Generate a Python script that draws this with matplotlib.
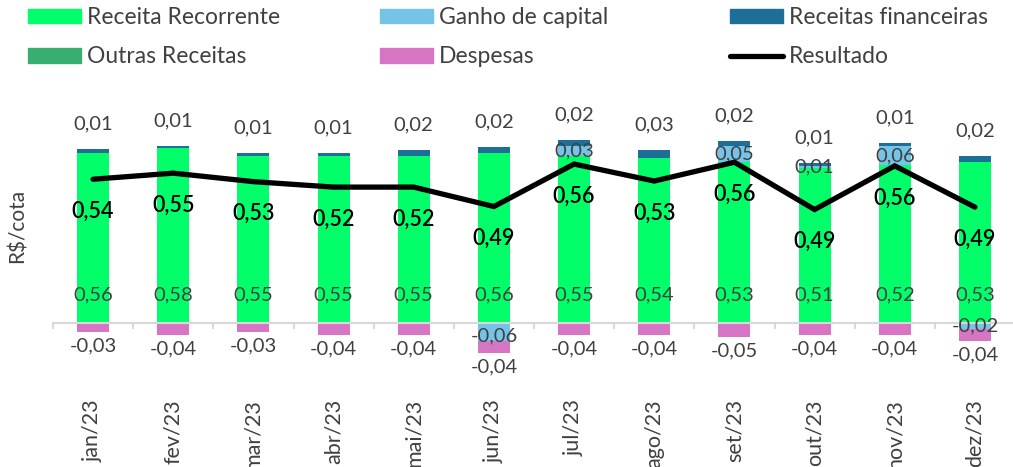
import matplotlib
matplotlib.use('Agg')
import matplotlib.pyplot as plt
import numpy as np
from matplotlib.patches import Patch
from matplotlib.lines import Line2D

plt.rcParams['font.family'] = ['Lato', 'DejaVu Sans']

months = ['jan/23', 'fev/23', 'mar/23', 'abr/23', 'mai/23', 'jun/23',
          'jul/23', 'ago/23', 'set/23', 'out/23', 'nov/23', 'dez/23']
receita_recorrente = [0.56, 0.576, 0.55, 0.55, 0.55, 0.56, 0.55, 0.544, 0.53, 0.51, 0.52, 0.53]
ganho_capital = [0, 0, 0, 0, 0, -0.06, 0.034, 0, 0.054, 0.008, 0.064, -0.02]
outras_receitas = [0, 0, 0, 0, 0, 0, 0, 0, 0, 0, 0, 0]
receitas_financeiras = [0.013, 0.008, 0.01, 0.01, 0.02, 0.02, 0.02, 0.026, 0.016, 0.01, 0.01, 0.02]
despesas = [-0.03, -0.04, -0.03, -0.04, -0.04, -0.04, -0.04, -0.04, -0.047, -0.04, -0.04, -0.04]
resultado = [0.536, 0.546, 0.532, 0.523, 0.523, 0.491, 0.561, 0.533, 0.564, 0.486, 0.558, 0.490]

C_REC = '#00FF69'
C_GAN = '#75C3E7'
C_FIN = '#1E6F98'
C_OUT = '#38AE70'
C_DES = '#D775C5'
TXT = '#404040'
LW = 'normal'

W, H = 1013, 467
fig = plt.figure(figsize=(W / 100, H / 100), dpi=100)

x_left, x_right = 53, 1015
y_top, y_bot = 90, 390
ax = fig.add_axes([x_left / W, 1 - y_bot / H, (x_right - x_left) / W, (y_bot - y_top) / H])
ax2 = ax.twinx()

zero_px = 323
ppu = 303.6
ax.set_ylim(-(y_bot - zero_px) / ppu, (zero_px - y_top) / ppu)
ax.set_xlim(-0.5, len(months) - 0.5)
ref_v, ref_px, ppu2 = 0.52833, 183.875, 606.5
ax2.set_ylim(ref_v + (ref_px - y_bot) / ppu2, ref_v + (ref_px - y_top) / ppu2)

x = np.arange(len(months))
bw = 0.4

rec = np.array(receita_recorrente)
gan = np.array(ganho_capital)
out = np.array(outras_receitas)
fin = np.array(receitas_financeiras)
des = np.array(despesas)

pos_bottom = np.zeros(len(x))
neg_bottom = np.zeros(len(x))

def stack(vals, color):
    global pos_bottom, neg_bottom
    vals = np.asarray(vals, dtype=float)
    pos = np.where(vals > 0, vals, 0)
    neg = np.where(vals < 0, vals, 0)
    ax.bar(x, pos, bw, bottom=pos_bottom, color=color, linewidth=0, zorder=2)
    ax.bar(x, neg, bw, bottom=neg_bottom, color=color, linewidth=0, zorder=2)
    centers = np.where(vals >= 0, pos_bottom + pos / 2, neg_bottom + neg / 2)
    pos_bottom = pos_bottom + pos
    neg_bottom = neg_bottom + neg
    return centers

stack(rec, C_REC)
gan_c = stack(gan, C_GAN)
stack(out, C_OUT)
stack(fin, C_FIN)
stack(des, C_DES)

def fmt(v):
    return f"{v:.2f}".replace('.', ',')

PX = 0.72
FS = 14.5
for i in x:
    ax.annotate(fmt(rec[i]), (i, 0), xytext=(0, 28 * PX), textcoords='offset points',
                ha='center', va='center', fontsize=FS, color=TXT, fontweight=LW, zorder=5)
    if gan[i] != 0:
        off = -4 if gan[i] < -0.04 else 0
        ax.annotate(fmt(gan[i]), (i, gan_c[i]), xytext=(0, off * PX), textcoords='offset points',
                    ha='center', va='center', fontsize=FS, color=TXT, fontweight=LW, zorder=5)
    ax.annotate(fmt(fin[i]), (i, pos_bottom[i]), xytext=(0, 25 * PX), textcoords='offset points',
                ha='center', va='center', fontsize=FS, color=TXT, fontweight=LW, zorder=5)
    ax.annotate(fmt(des[i]), (i, neg_bottom[i]), xytext=(0, -14 * PX), textcoords='offset points',
                ha='center', va='center', fontsize=FS, color=TXT, fontweight=LW, zorder=5)

ax2.plot(x, resultado, color='black', lw=3.8, solid_capstyle='round',
         solid_joinstyle='miter', zorder=4)
for i in x:
    ax2.annotate(fmt(resultado[i]), (i, resultado[i]), xytext=(0, -32 * PX),
                 textcoords='offset points', ha='center', va='center',
                 fontsize=15.5, color='black', fontweight='semibold', zorder=6)

for a in (ax, ax2):
    for s in ('top', 'right', 'left'):
        a.spines[s].set_visible(False)
ax2.spines['bottom'].set_visible(False)
ax2.set_yticks([])
ax.set_yticks([])
ax.spines['bottom'].set_position(('data', 0))
ax.spines['bottom'].set_color('#D9D9D9')
ax.spines['bottom'].set_linewidth(1.5)
ax.set_xticks(x)
ax.set_xticklabels(months, rotation=90, fontsize=15.5, color=TXT, fontweight=LW)
ax.tick_params(axis='x', which='major', length=0, pad=76 * PX)
ax.set_xticks(np.arange(-0.5, len(months), 1), minor=True)
ax.tick_params(axis='x', which='minor', length=6 * PX, width=1.5, color='#D9D9D9')
ax.set_zorder(1)
ax2.set_zorder(2)
ax.patch.set_visible(False)
ax2.patch.set_visible(False)

fig.text(18 / W, 1 - 226 / H, 'R$/cota', rotation=90, ha='center', va='center',
         fontsize=15, color=TXT, fontweight=LW)

leg_kw = dict(frameon=False, loc='upper left', handlelength=2.3,
              handleheight=0.62, handletextpad=0.27, labelspacing=0.8,
              borderpad=0, borderaxespad=0, labelcolor=TXT,
              prop={'size': 16.5, 'weight': LW})
cols = [
    (28, [Patch(color=C_REC), Patch(color=C_OUT)], ['Receita Recorrente', 'Outras Receitas']),
    (380, [Patch(color=C_GAN), Patch(color=C_DES)], ['Ganho de capital', 'Despesas']),
    (730, [Patch(color=C_FIN), Line2D([], [], color='black', lw=3.8, solid_capstyle='round')],
     ['Receitas financeiras', 'Resultado']),
]
for xp, hs, ls in cols:
    fig.legend(hs, ls, bbox_to_anchor=(xp / W, 1 - 7 / H), **leg_kw)

fig.savefig('out.png', dpi=100)
